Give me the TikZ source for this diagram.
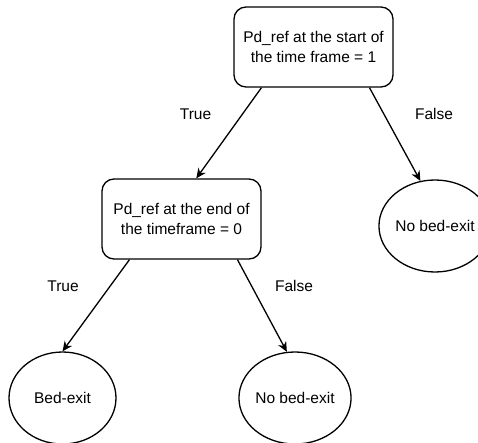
\documentclass[tikz,border=0pt]{standalone}
\usepackage{fontspec}
\setmainfont{Liberation Sans}
\usetikzlibrary{arrows.meta,shapes.geometric}

\begin{document}
\begin{tikzpicture}[x=1pt,y=-1pt,
  font=\fontsize{15.5}{19.5}\selectfont,
  test/.style={draw,rounded corners=12pt,line width=1.3pt,minimum width=159pt,minimum height=80pt,align=center,inner sep=0pt},
  leaf/.style={draw,ellipse,line width=1.3pt,minimum width=107pt,minimum height=92pt,inner sep=0pt},
  lbl/.style={inner sep=0pt},
  arrow/.style={-{Stealth[length=10pt,width=9pt]}, line width=1.3pt}]
  \useasboundingbox (0,0) rectangle (478,443);
  \node[test] (D1) at (313.5,47) {Pd\_ref at the start of\\the time frame = 1};
  \node[test] (D2) at (181.5,219) {Pd\_ref at the end of\\the timeframe = 0};
  \node[leaf] (NR) at (435,226) {No bed-exit};
  \node[leaf] (BE) at (62.5,398) {Bed-exit};
  \node[leaf] (NB) at (295,398) {No bed-exit};
  \node[lbl] (t1) at (195.5,114) {True};
  \node[lbl] (f1) at (434,114) {False};
  \node[lbl] (t2) at (63,286) {True};
  \node[lbl] (f2) at (294,286) {False};
  \draw[arrow] (D1.-142) -- (D2.70); \draw[arrow] (D1.-36) -- (NR.108);
  \draw[arrow] (D2.-142) -- (BE.north); \draw[arrow] (D2.-36) -- (NB.100);
\end{tikzpicture}
\end{document}
